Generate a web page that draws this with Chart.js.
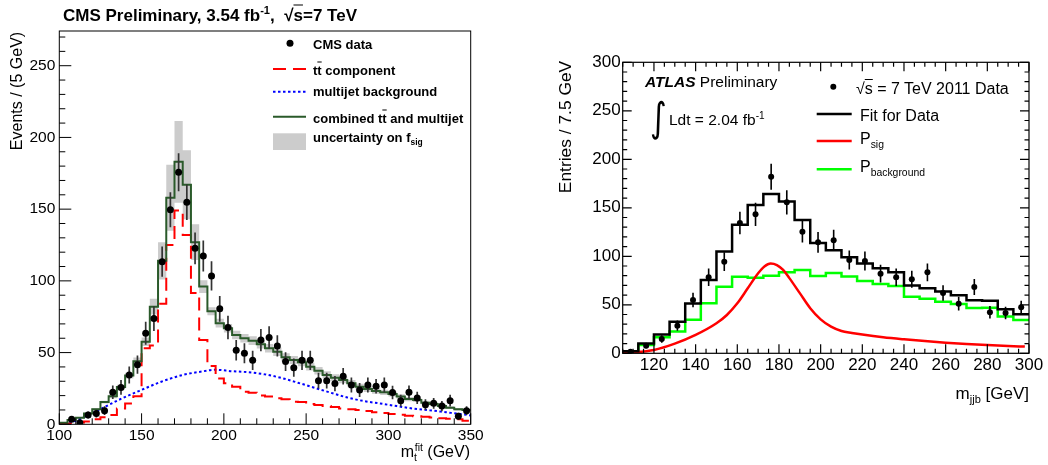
<!DOCTYPE html>
<html>
<head>
<meta charset="utf-8">
<title>Top mass: CMS and ATLAS</title>
<script src="https://cdn.jsdelivr.net/npm/chart.js@4.4.0/dist/chart.umd.min.js"></script>
<style>
  body { margin: 0; width: 1048px; height: 465px; background: #fff; position: relative; overflow: hidden;
         font-family: "Liberation Sans", Arial, Helvetica, sans-serif; color: #000; }
  canvas { position: absolute; top: 0; }
  #cmsChart { left: 0; }
  #atlasChart { left: 540px; }
  svg { position: absolute; left: 0; top: 0; pointer-events: none; }
  .t { position: absolute; white-space: nowrap; line-height: 1; transform: translateY(-50%); }
  .rot { transform: translate(-50%, -50%) rotate(-90deg); }
  .b { font-weight: bold; }
  .ov { text-decoration: overline; }
  sup, sub { font-size: 0.65em; line-height: 0; }
</style>
</head>
<body>
<canvas id="cmsChart" width="500" height="465"></canvas>
<canvas id="atlasChart" width="508" height="465"></canvas>

<svg width="1048" height="465">
  <!-- CMS legend symbols -->
  <circle cx="290" cy="43.3" r="3.5" fill="#000"/>
  <line x1="273" y1="69" x2="306" y2="69" stroke="#ff0000" stroke-width="2" stroke-dasharray="13 7"/>
  <line x1="273" y1="91.7" x2="306" y2="91.7" stroke="#0000ff" stroke-width="2" stroke-dasharray="2.5 2.5"/>
  <line x1="273" y1="116.7" x2="306" y2="116.7" stroke="#2a5a2a" stroke-width="2"/>
  <rect x="273" y="133.3" width="33" height="16.7" fill="#cccccc"/>
  <!-- ATLAS legend symbols -->
  <circle cx="833.3" cy="86.7" r="3" fill="#000"/>
  <line x1="816.7" y1="114" x2="851.7" y2="114" stroke="#000" stroke-width="2.5"/>
  <line x1="816.7" y1="141" x2="851.7" y2="141" stroke="#ff0000" stroke-width="2.5"/>
  <line x1="816.7" y1="169.3" x2="851.7" y2="169.3" stroke="#00ff00" stroke-width="2.5"/>
</svg>

<!-- CMS texts -->
<div class="t b" style="left:63px;top:15px;font-size:17px">CMS Preliminary, 3.54 fb<sup>-1</sup>,&nbsp; √<span class="ov">s</span>=7 TeV</div>
<div class="t b" style="left:313px;top:43.5px;font-size:13px">CMS data</div>
<div class="t b" style="left:313px;top:69.5px;font-size:13px">t<span class="ov">t</span> component</div>
<div class="t b" style="left:313px;top:91px;font-size:13px">multijet background</div>
<div class="t b" style="left:313px;top:118px;font-size:13px">combined t<span class="ov">t</span> and multijet</div>
<div class="t b" style="left:313px;top:137px;font-size:13px">uncertainty on f<sub>sig</sub></div>
<div class="t rot" style="left:17px;top:91px;font-size:16px">Events / (5 GeV)</div>
<div class="t" style="right:578px;top:452px;font-size:16px">m<sub>t</sub><sup style="margin-left:-0.2em">fit</sup> (GeV)</div>

<!-- ATLAS texts -->
<div class="t" style="left:645px;top:82px;font-size:15.5px"><b><i>ATLAS</i></b> Preliminary</div>
<div class="t" style="left:648px;top:117px;font-size:40px;font-family:'DejaVu Sans';transform:translateY(-50%) scaleX(0.8)">∫</div>
<div class="t" style="left:669px;top:120px;font-size:15.5px">Ldt = 2.04 fb<sup>-1</sup></div>
<div class="t" style="left:856px;top:88.5px;font-size:16px">√<span class="ov">s</span> = 7 TeV 2011 Data</div>
<div class="t" style="left:860px;top:116px;font-size:16px">Fit for Data</div>
<div class="t" style="left:860px;top:139px;font-size:16px">P<sub>sig</sub></div>
<div class="t" style="left:860px;top:167px;font-size:16px">P<sub>background</sub></div>
<div class="t rot" style="left:566px;top:127px;font-size:17.4px">Entries / 7.5 GeV</div>
<div class="t" style="right:19px;top:393px;font-size:17px">m<sub>jjb</sub> [GeV]</div>

<script>
// ── CMS: m_t^fit, 5 GeV bins ─────────────────────────────────
const cmsEdges = [100, 105, 110, 115, 120, 125, 130, 135, 140, 145, 150, 155, 160, 165, 170, 175, 180, 185, 190, 195,
                  200, 205, 210, 215, 220, 225, 230, 235, 240, 245, 250, 255, 260, 265, 270, 275, 280, 285, 290, 295,
                  300, 305, 310, 315, 320, 325, 330, 335, 340, 345, 350];
const cmsData = [null, 3.5, 1.1, 6.5, 7.5, 9.5, 22.3, 25.7, 34.4, 41.6, 63.5, 73.7, 113.4, 149.5, 175.7, 154.8, 122.7, 117.4, 103.4, 80.5,
                 67.5, 51.6, 49.5, 44.6, 58.7, 60.5, 54.6, 43.7, 39.5, 44.6, 44.6, 30.4, 30.4, 28.4, 33.5, 27.4, 23.9, 27.4, 26.5, 27.4,
                 22.1, 16.5, 22.3, 18.4, 13.7, 14.6, 12.7, 16.5, 5.6, 9.5];
const cmsErr = [0, 1.9, 1.1, 2.5, 2.7, 3.1, 4.7, 5.1, 5.9, 6.4, 8, 8.6, 10.6, 12.2, 13.3, 12.4, 11.1, 10.8, 10.2, 9,
                8.2, 7.2, 7, 6.7, 7.7, 7.8, 7.4, 6.6, 6.3, 6.7, 6.7, 5.5, 5.5, 5.3, 5.8, 5.2, 4.9, 5.2, 5.1, 5.2,
                4.7, 4.1, 4.7, 4.3, 3.7, 3.8, 3.6, 4.1, 2.4, 3.1];
const cmsCombined = [1, 3, 4.5, 7.5, 10.5, 15.5, 19.5, 26, 34, 44, 57.6, 82, 114, 158, 183, 167, 127, 96, 78.8, 70.5,
                     67, 62.3, 60, 58.3, 55.8, 53, 50.6, 46.7, 44.8, 43.2, 40.2, 37.4, 34.4, 32.5, 30.9, 28.6, 26.2, 24.6, 23.2, 22.3,
                     21.1, 19.3, 17.6, 17, 15.1, 14.2, 12.8, 11.6, 10.5, 10];
const cmsTtbar = [0.3, 0.6, 1.2, 2, 3.5, 5, 6.5, 11, 14.5, 19.5, 53, 55, 84, 125, 149, 132, 91.5, 58.8, 40.7, 32,
                  28.6, 26.2, 22.7, 22, 20, 19.3, 18.1, 17.5, 15.8, 15.5, 14.2, 13.5, 12.8, 12, 11.1, 10.5, 10, 9.2, 8.4, 7.8,
                  7.2, 6.6, 6, 5.6, 5.3, 4.8, 4.2, 3.8, 3.5, 2.5];
// half-height of the f_sig uncertainty band around the combined histogram
const cmsUnc = [0.2, 0.3, 0.4, 0.6, 0.8, 1, 1.3, 1.6, 2, 2.5, 3, 5.5, 13, 23, 28.5, 24, 12.5, 4.5, 2.8, 3,
                3, 3, 3, 3, 3, 3, 3, 2.9, 2.8, 2.8, 2.7, 2.6, 2.5, 2.4, 2.3, 2.2, 2.1, 2, 1.9, 1.8,
                1.7, 1.6, 1.5, 1.4, 1.3, 1.2, 1.1, 1, 0.9, 0.8];
const cmsBkgX = [100, 105, 110, 117.5, 125, 130, 138, 150, 162, 175, 185, 195, 205, 215, 225, 235, 245, 255, 265, 275, 285, 295, 305, 315, 325, 335, 345, 350];
const cmsBkgY = [0, 1, 2.5, 6.5, 10.5, 13.5, 18, 24, 29.7, 34.4, 36.5, 38, 37, 36.3, 34.8, 32.3, 29, 25.5, 22, 18.7, 16.2, 14.5, 12.7, 11, 9.8, 8.4, 7, 6.2];

// ── ATLAS: m_jjb, 7.5 GeV bins ───────────────────────────────
const atlasEdges = [105, 112.5, 120, 127.5, 135, 142.5, 150, 157.5, 165, 172.5, 180, 187.5, 195, 202.5,
                    210, 217.5, 225, 232.5, 240, 247.5, 255, 262.5, 270, 277.5, 285, 292.5, 300];
const atlasData = [1.7, 7.9, 14.8, 28.5, 55, 78.4, 94.5, 134.4, 143.3, 182, 155.7, 125.4, 114.4,
                   116.5, 96.2, 95.2, 82.1, 78.4, 76.3, 83.5, 62.2, 51.2, 68.4, 42.3, 41.6, 47.4];
const atlasErr = [1.3, 2.8, 3.8, 5.3, 7.4, 8.9, 9.7, 11.6, 12, 13.5, 12.5, 11.2, 10.7,
                  10.8, 9.8, 9.8, 9.1, 8.9, 8.7, 9.1, 7.9, 7.2, 8.3, 6.5, 6.4, 6.9];
const atlasFit = [2, 10, 19.3, 32.5, 51.3, 75.6, 105, 132.6, 153, 164.1, 156.5, 137.5, 113.7,
                  106.2, 99, 92.5, 87.6, 83.5, 69.8, 67, 63.6, 59.8, 54.6, 54.2, 45.4, 40.3];
const atlasBkg = [1, 8.6, 16.6, 22.6, 34.6, 51.5, 68.7, 79, 78, 80, 83.6, 86, 79.8,
                  82.8, 79.3, 74.5, 71.4, 69.4, 58.4, 56.3, 53.2, 50.7, 46.6, 47, 38, 34.3];
const atlasSigX = [105, 110, 120, 130, 140, 150, 155, 160, 165, 170, 173, 176, 179, 182, 185,
                   190, 195, 200, 205, 210, 215, 220, 230, 240, 250, 260, 270, 280, 290, 298];
const atlasSigY = [0.5, 1, 3.5, 10, 19, 31, 39.5, 51.5, 67, 82.5, 89.5, 92.5, 91, 86, 77.5,
                   62, 46.5, 35, 27.5, 23, 21, 19.3, 16.5, 14.4, 12.6, 11, 9.7, 8.6, 7.6, 6.9];

Chart.defaults.font.family = '"Liberation Sans", Arial, sans-serif';
Chart.defaults.color = '#000';

// histogram as a stepped line: each value holds from its left edge to the next
function stepPoints(edges, values) {
  const pts = values.map((v, i) => ({ x: edges[i], y: v }));
  pts.push({ x: edges[edges.length - 1], y: values[values.length - 1] });
  return pts;
}
function curvePoints(xs, ys) {
  return xs.map((x, i) => ({ x, y: ys[i] }));
}
function binCenters(edges) {
  return edges.slice(1).map((e, i) => (edges[i] + e) / 2);
}

// ROOT-style frame with ticks pointing inwards
const rootAxes = {
  id: 'rootAxes',
  afterDatasetsDraw(chart, args, o) {
    const { ctx, chartArea: a, scales: { x, y } } = chart;
    const marks = (scale, minor) => {
      const major = scale.ticks.map(t => t.value);
      const out = [];
      for (let k = Math.ceil(scale.min / minor - 1e-9); k * minor <= scale.max + 1e-9; k++) {
        const v = k * minor;
        out.push({ v, major: major.some(m => Math.abs(m - v) < 1e-6) });
      }
      return out;
    };
    ctx.save();
    ctx.strokeStyle = '#000';
    ctx.lineWidth = o.lineWidth;
    ctx.beginPath();
    marks(x, o.xMinor).forEach(t => {
      const px = x.getPixelForValue(t.v);
      const len = t.major ? o.xMajor : o.xMinor2;
      ctx.moveTo(px, a.bottom); ctx.lineTo(px, a.bottom - len);
      if (o.mirror) { ctx.moveTo(px, a.top); ctx.lineTo(px, a.top + len); }
    });
    marks(y, o.yMinor).forEach(t => {
      const py = y.getPixelForValue(t.v);
      const len = t.major ? o.yMajor : o.yMinor2;
      ctx.moveTo(a.left, py); ctx.lineTo(a.left + len, py);
      if (o.mirror) { ctx.moveTo(a.right, py); ctx.lineTo(a.right - len, py); }
    });
    ctx.stroke();
    ctx.strokeRect(a.left, a.top, a.right - a.left, a.bottom - a.top);
    ctx.restore();
  }
};

// vertical error bars, drawn just before the marker dataset
const errorBars = {
  id: 'errorBars',
  beforeDatasetDraw(chart, args, o) {
    const ds = chart.data.datasets[args.index];
    if (!ds.errors) return;
    const { ctx, scales: { x, y } } = chart;
    ctx.save();
    ctx.strokeStyle = o.color;
    ctx.lineWidth = o.width;
    ctx.beginPath();
    ds.data.forEach((p, i) => {
      if (p.y == null) return;
      const px = x.getPixelForValue(p.x);
      ctx.moveTo(px, y.getPixelForValue(p.y - ds.errors[i]));
      ctx.lineTo(px, y.getPixelForValue(p.y + ds.errors[i]));
    });
    ctx.stroke();
    ctx.restore();
  }
};

function axisOpts(min, max, step, size, pad, fit) {
  return {
    type: 'linear', min, max,
    border: { display: false },
    grid: { display: false, drawTicks: false },
    ticks: { stepSize: step, includeBounds: false, autoSkip: false, maxRotation: 0,
             padding: pad, font: { size }, color: '#000' },
    afterFit: fit
  };
}

// ── CMS chart ────────────────────────────────────────────────
const cmsX = binCenters(cmsEdges);
const cmsBandHi = cmsCombined.map((v, i) => v + cmsUnc[i]);
const cmsBandLo = cmsCombined.map((v, i) => Math.max(v - cmsUnc[i], 0));

new Chart(document.getElementById('cmsChart'), {
  type: 'scatter',
  data: {
    datasets: [
      { label: 'CMS data', data: cmsX.map((x, i) => ({ x, y: cmsData[i] })), errors: cmsErr,
        pointRadius: 3.5, pointBackgroundColor: '#000', pointBorderWidth: 0, showLine: false, order: 0 },
      { label: 'combined tt and multijet', data: stepPoints(cmsEdges, cmsCombined), showLine: true, stepped: true,
        borderColor: '#2a5a2a', borderWidth: 2, pointRadius: 0, order: 1 },
      { label: 'tt component', data: stepPoints(cmsEdges, cmsTtbar), showLine: true, stepped: true,
        borderColor: '#ff0000', borderWidth: 2, borderDash: [13, 7], pointRadius: 0, order: 2 },
      { label: 'multijet background', data: curvePoints(cmsBkgX, cmsBkgY), showLine: true,
        cubicInterpolationMode: 'monotone', borderColor: '#0000ff', borderWidth: 2, borderDash: [2.5, 2.5],
        pointRadius: 0, order: 3 },
      { label: 'uncertainty on f_sig', data: stepPoints(cmsEdges, cmsBandHi), showLine: true, stepped: true,
        borderColor: 'rgba(0,0,0,0)', backgroundColor: '#cccccc', fill: '+1', pointRadius: 0, order: 4 },
      { label: 'band low', data: stepPoints(cmsEdges, cmsBandLo), showLine: true, stepped: true,
        borderColor: 'rgba(0,0,0,0)', fill: false, pointRadius: 0, order: 5 }
    ]
  },
  options: {
    responsive: false, animation: false, events: [],
    layout: { padding: { left: 0, top: 31, right: 29.3, bottom: 0 } },
    plugins: {
      legend: { display: false }, tooltip: { enabled: false },
      rootAxes: { lineWidth: 1, xMinor: 10, xMajor: 11, xMinor2: 6, yMinor: 10, yMajor: 12, yMinor2: 6, mirror: false },
      errorBars: { color: '#333', width: 1.7 }
    },
    scales: {
      x: axisOpts(100, 350, 50, 15.5, 2, s => { s.height = 40.7; }),
      y: axisOpts(0, 274.2, 50, 15.5, 4, s => { s.width = 59.3; })
    }
  },
  plugins: [rootAxes, errorBars]
});

// ── ATLAS chart ──────────────────────────────────────────────
const atlasX = binCenters(atlasEdges);

new Chart(document.getElementById('atlasChart'), {
  type: 'scatter',
  data: {
    datasets: [
      { label: '2011 Data', data: atlasX.map((x, i) => ({ x, y: atlasData[i] })), errors: atlasErr,
        pointRadius: 3, pointBackgroundColor: '#000', pointBorderWidth: 0, showLine: false, order: 0 },
      { label: 'Fit for Data', data: stepPoints(atlasEdges, atlasFit), showLine: true, stepped: true,
        borderColor: '#000', borderWidth: 2.5, pointRadius: 0, order: 1 },
      { label: 'P_sig', data: curvePoints(atlasSigX, atlasSigY), showLine: true, cubicInterpolationMode: 'monotone',
        borderColor: '#ff0000', borderWidth: 2.5, pointRadius: 0, order: 2 },
      { label: 'P_background', data: stepPoints(atlasEdges, atlasBkg), showLine: true, stepped: true,
        borderColor: '#00ff00', borderWidth: 2.5, pointRadius: 0, order: 3 }
    ]
  },
  options: {
    responsive: false, animation: false, events: [],
    layout: { padding: { left: 0, top: 62.3, right: 19, bottom: 81.7 } },
    plugins: {
      legend: { display: false }, tooltip: { enabled: false },
      rootAxes: { lineWidth: 1.2, xMinor: 5, xMajor: 9, xMinor2: 4.5, yMinor: 10, yMajor: 9, yMinor2: 4.5, mirror: true },
      errorBars: { color: '#000', width: 1.6 }
    },
    scales: {
      x: axisOpts(105, 300, 20, 17, 2, s => { s.height = 30; }),
      y: axisOpts(0, 300, 50, 17, 2, s => { s.width = 82.7; })
    }
  },
  plugins: [rootAxes, errorBars]
});
</script>
</body>
</html>
